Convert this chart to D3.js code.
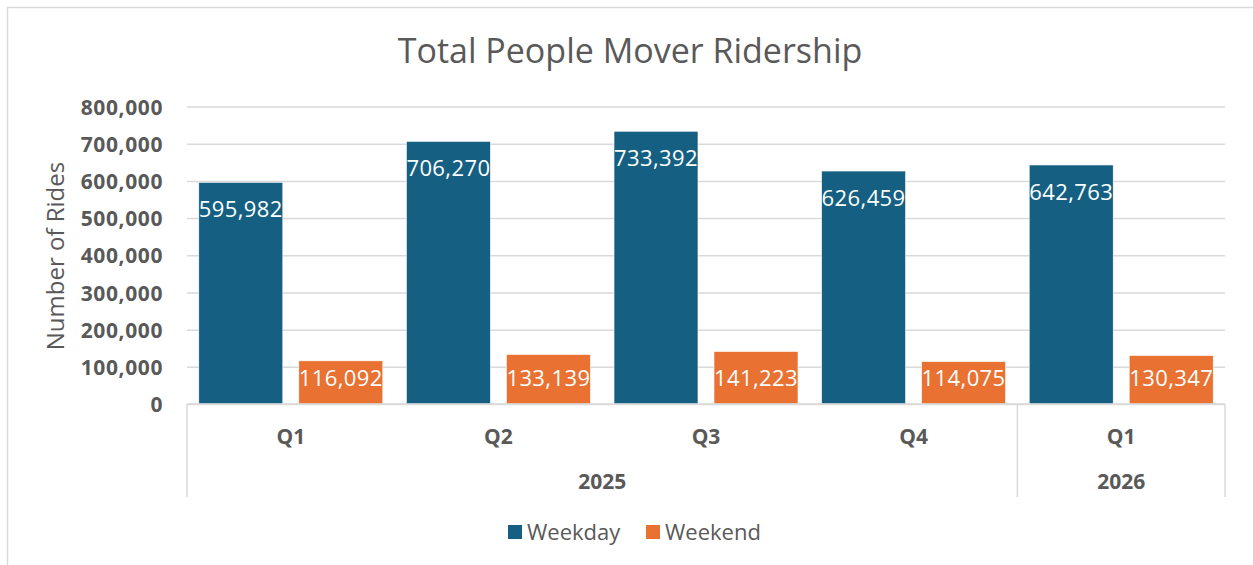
<!DOCTYPE html>
<html>
<head>
<meta charset="utf-8">
<script src="https://cdn.jsdelivr.net/npm/d3@7"></script>
<style>
  body { margin: 0; background: #fff; }
  svg text { font-family: "Open Sans", sans-serif; }
</style>
</head>
<body>
<div id="chart"></div>
<script>
// data
var quarters = ["Q1", "Q2", "Q3", "Q4", "Q1"];
var years = ["2025", "2025", "2025", "2025", "2026"];
var seriesNames = ["Weekday", "Weekend"];
var weekday = [595982, 706270, 733392, 626459, 642763];
var weekend = [116092, 133139, 141223, 114075, 130347];
var yTicks = [0, 100000, 200000, 300000, 400000, 500000, 600000, 700000, 800000];

var W = 1253, H = 565;
var colors = { Weekday: "#156082", Weekend: "#E97132" };
var grey = "#595959", lineGrey = "#d9d9d9";

var plot = { left: 187, right: 1225, top: 106.5, bottom: 404 };

var rows = quarters.map(function(q, i) {
  return { key: i, quarter: q, year: years[i], Weekday: weekday[i], Weekend: weekend[i] };
});

var svg = d3.select("#chart").append("svg")
  .attr("width", W)
  .attr("height", H);

// chart frame
svg.append("path")
  .attr("d", "M7.5," + H + "V7.5H" + W)
  .attr("fill", "none")
  .attr("stroke", lineGrey)
  .attr("stroke-width", 1.5);

var x0 = d3.scaleBand()
  .domain(rows.map(function(d) { return d.key; }))
  .range([plot.left, plot.right])
  .padding(0);

var x1 = d3.scaleBand()
  .domain(seriesNames)
  .range([0, x0.bandwidth()])
  .paddingInner(0.16)
  .paddingOuter(0.118);

var y = d3.scaleLinear()
  .domain([0, 800000])
  .range([plot.bottom, plot.top]);

// gridlines
var yAxis = d3.axisLeft(y)
  .tickValues(yTicks)
  .tickSize(-(plot.right - plot.left))
  .tickPadding(24)
  .tickFormat(d3.format(","));

var gy = svg.append("g")
  .attr("transform", "translate(" + plot.left + ",0)")
  .call(yAxis);
gy.select(".domain").remove();
gy.selectAll(".tick line")
  .attr("stroke", lineGrey)
  .attr("stroke-width", 1.5);
gy.selectAll(".tick text")
  .attr("fill", grey)
  .attr("font-size", 21)
  .attr("font-weight", "bold")
  .attr("letter-spacing", 0.6)
  .attr("dy", "0.36em");

// bars
var groups = svg.selectAll(".grp")
  .data(rows)
  .enter().append("g")
  .attr("class", "grp")
  .attr("transform", function(d) { return "translate(" + x0(d.key) + ",0)"; });

var cells = groups.selectAll(".bar")
  .data(function(d) {
    return seriesNames.map(function(s) { return { series: s, value: d[s] }; });
  })
  .enter();

cells.append("rect")
  .attr("class", "bar")
  .attr("x", function(d) { return x1(d.series); })
  .attr("width", x1.bandwidth())
  .attr("y", function(d) { return y(d.value); })
  .attr("height", function(d) { return y(0) - y(d.value); })
  .attr("fill", function(d) { return colors[d.series]; })
  .attr("stroke", "#fff")
  .attr("stroke-width", 0.6);

cells.append("text")
  .attr("x", function(d) { return x1(d.series) + x1.bandwidth() / 2; })
  .attr("y", function(d) { return Math.min(y(d.value) + 27, y(0) - 26); })
  .attr("dy", "0.36em")
  .attr("text-anchor", "middle")
  .attr("fill", "#fff")
  .attr("font-size", 22)
  .attr("letter-spacing", 0.4)
  .text(function(d) { return d3.format(",")(d.value); });

// baseline and multi-level category axis
svg.append("line")
  .attr("x1", plot.left).attr("x2", plot.right)
  .attr("y1", y(0)).attr("y2", y(0))
  .attr("stroke", lineGrey).attr("stroke-width", 1.5);

var yearGroups = d3.groups(rows, function(d) { return d.year; }).map(function(g) {
  var first = g[1][0].key, last = g[1][g[1].length - 1].key;
  return { year: g[0], x0: x0(first), x1: x0(last) + x0.bandwidth() };
});

var seps = [plot.left].concat(yearGroups.map(function(g) { return g.x1; }));
svg.selectAll(".sep")
  .data(seps)
  .enter().append("line")
  .attr("class", "sep")
  .attr("x1", function(d) { return d; }).attr("x2", function(d) { return d; })
  .attr("y1", y(0)).attr("y2", 497)
  .attr("stroke", lineGrey).attr("stroke-width", 1.5);

svg.selectAll(".qlab")
  .data(rows)
  .enter().append("text")
  .attr("class", "qlab")
  .attr("x", function(d) { return x0(d.key) + x0.bandwidth() / 2; })
  .attr("y", 436)
  .attr("dy", "0.36em")
  .attr("text-anchor", "middle")
  .attr("fill", grey)
  .attr("font-size", 21)
  .attr("font-weight", "bold")
  .text(function(d) { return d.quarter; });

svg.selectAll(".ylab")
  .data(yearGroups)
  .enter().append("text")
  .attr("class", "ylab")
  .attr("x", function(d) { return (d.x0 + d.x1) / 2; })
  .attr("y", 481)
  .attr("dy", "0.36em")
  .attr("text-anchor", "middle")
  .attr("fill", grey)
  .attr("font-size", 21)
  .attr("font-weight", "bold")
  .text(function(d) { return d.year; });

// title
svg.append("text")
  .attr("x", 630)
  .attr("y", 63)
  .attr("text-anchor", "middle")
  .attr("fill", grey)
  .attr("font-size", 34)
  .text("Total People Mover Ridership");

// y axis title
svg.append("text")
  .attr("transform", "translate(64,256) rotate(-90)")
  .attr("text-anchor", "middle")
  .attr("fill", grey)
  .attr("font-size", 24)
  .text("Number of Rides");

// legend
var legend = svg.append("g").attr("transform", "translate(508,532)");
var litems = legend.selectAll(".li")
  .data(seriesNames)
  .enter().append("g")
  .attr("class", "li")
  .attr("transform", function(d, i) { return "translate(" + (i * 138) + ",0)"; });
litems.append("rect")
  .attr("x", 0).attr("y", -7)
  .attr("width", 14).attr("height", 14)
  .attr("fill", function(d) { return colors[d]; });
litems.append("text")
  .attr("x", 19)
  .attr("dy", "0.36em")
  .attr("fill", grey)
  .attr("font-size", 22)
  .text(function(d) { return d; });
</script>
</body>
</html>
